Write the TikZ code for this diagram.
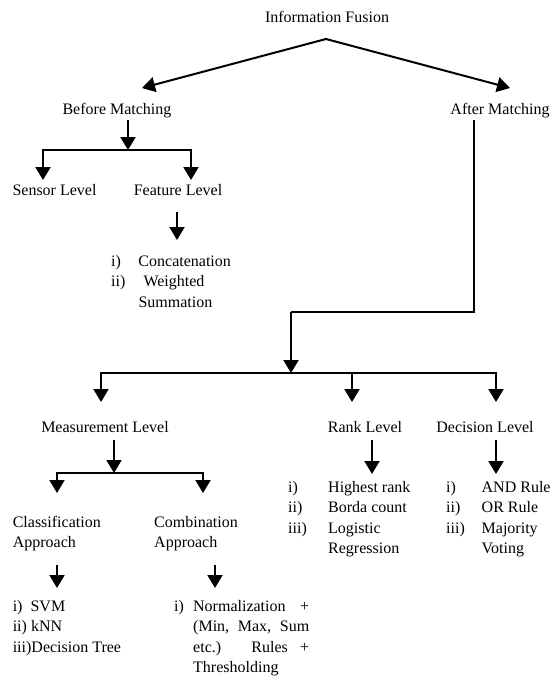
\documentclass[tikz,border=0pt]{standalone}
\usepackage{fontspec}
\setmainfont{Liberation Serif}
\usetikzlibrary{arrows.meta}
\begin{document}
\begin{tikzpicture}[x=1pt,y=-1pt,
  txt/.style={inner sep=0pt, anchor=base, font=\fontsize{16}{20.5}\selectfont},
  txtl/.style={txt, anchor=base west},
  conn/.style={line width=2pt, line cap=rect},
  arr/.style={line width=2pt, -{Triangle[width=15pt,length=13pt]}}]
\useasboundingbox (0,0) rectangle (551,680);
% nodes
\node[txt] (if) at (327,22) {Information Fusion};
\node[txt] (bm) at (117,114) {Before Matching};
\node[txt] (am) at (500,114) {After Matching};
\node[txt] (sl) at (54.5,195) {Sensor Level};
\node[txt] (fl) at (178,195) {Feature Level};
\node[txtl] (fll) at (111,266) {\begin{tabular}[t]{@{}p{27.3pt}@{}l@{}}i) & Concatenation\\ ii) & \hspace{5pt}Weighted\\ & Summation\end{tabular}};
\node[txt] (ml) at (105,432) {Measurement Level};
\node[txt] (rl) at (365,432) {Rank Level};
\node[txt] (dl) at (485,432) {Decision Level};
\node[txtl] (rll) at (288,492) {\begin{tabular}[t]{@{}p{40pt}@{}l@{}}i) & Highest rank\\ ii) & Borda count\\ iii) & Logistic\\ & Regression\end{tabular}};
\node[txtl] (dll) at (446,492) {\begin{tabular}[t]{@{}p{35.5pt}@{}l@{}}i) & AND Rule\\ ii) & OR Rule\\ iii) & Majority\\ & Voting\end{tabular}};
\node[txtl] (ca) at (12.6,527) {\begin{tabular}[t]{@{}l@{}}Classification\\ Approach\end{tabular}};
\node[txtl] (co) at (154,527) {\begin{tabular}[t]{@{}l@{}}Combination\\ Approach\end{tabular}};
\node[txtl] (cal) at (12.6,611) {\begin{tabular}[t]{@{}l@{}}i)\ \ SVM\\ ii) kNN\\ iii)Decision Tree\end{tabular}};
\node[txtl] (col) at (174,611) {\begin{tabular}[t]{@{}p{19pt}@{}l@{}}i) & \makebox[116pt][s]{Normalization\hfill +}\\ & \makebox[116pt][s]{(Min, Max, Sum}\\ & \makebox[116pt][s]{etc.) Rules +}\\ & Thresholding\end{tabular}};
% coordinates
\coordinate (root) at (326,39);
\coordinate (bmtip) at (142,88);
\coordinate (amtip) at (510,88);
\coordinate (bm1) at (128,120);
\coordinate (bm2) at (128,150);
\coordinate (bl) at (43,150);
\coordinate (br) at (191,150);
\coordinate (slt) at (43,180);
\coordinate (flt) at (191,180);
\coordinate (fl1) at (177,212);
\coordinate (fl2) at (177,240);
\coordinate (am1) at (474,120);
\coordinate (am2) at (291,312);
\coordinate (am3) at (291,373);
\coordinate (hl) at (101,373);
\coordinate (hm) at (352,373);
\coordinate (hr) at (496,373);
\coordinate (mlt) at (101,402);
\coordinate (rlt) at (352,402);
\coordinate (dlt) at (496,402);
\coordinate (ml1) at (114,440);
\coordinate (ml2) at (114,473);
\coordinate (mbl) at (57,473);
\coordinate (mbr) at (203,473);
\coordinate (cat) at (57,493);
\coordinate (cot) at (203,493);
\coordinate (rl1) at (372,440);
\coordinate (rl2) at (372,474);
\coordinate (dl1) at (496,440);
\coordinate (dl2) at (496,474);
\coordinate (ca1) at (57,565);
\coordinate (ca2) at (57,588);
\coordinate (co1) at (215,565);
\coordinate (co2) at (215,588);
% connectors
\draw[arr] (root) -- (bmtip);
\draw[arr] (root) -- (amtip);
\draw[arr] (bm1) -- (bm2);
\draw[conn] (bl) -- (br);
\draw[arr] (bl) -- (slt);
\draw[arr] (br) -- (flt);
\draw[arr] (fl1) -- (fl2);
\draw[line width=2pt, line join=miter] (am1) |- (am2);
\draw[arr] (am2) -- (am3);
\draw[conn] (hl) -- (hr);
\draw[arr] (hl) -- (mlt);
\draw[arr] (hm) -- (rlt);
\draw[arr] (hr) -- (dlt);
\draw[arr] (ml1) -- (ml2);
\draw[conn] (mbl) -- (mbr);
\draw[arr] (mbl) -- (cat);
\draw[arr] (mbr) -- (cot);
\draw[arr] (rl1) -- (rl2);
\draw[arr] (dl1) -- (dl2);
\draw[arr] (ca1) -- (ca2);
\draw[arr] (co1) -- (co2);
\end{tikzpicture}
\end{document}
